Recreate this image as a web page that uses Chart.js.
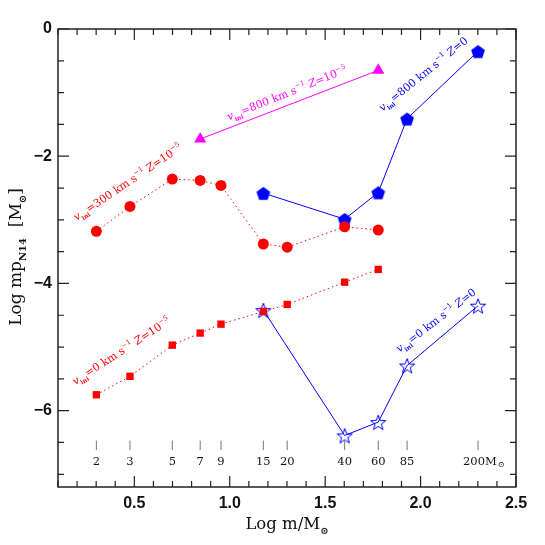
<!DOCTYPE html>
<html>
<head>
<meta charset="utf-8">
<script src="https://cdn.jsdelivr.net/npm/chart.js@4.4.0/dist/chart.umd.min.js"></script>
<style>
  html, body { margin: 0; padding: 0; background: #fff; }
  #wrap { width: 545px; height: 545px; }
</style>
</head>
<body>
<div id="wrap"><canvas id="c" width="545" height="545"></canvas></div>
<script>
// --- data ---
const MASS_LABELS = [2, 3, 5, 7, 9, 15, 20, 40, 60, 85, 200];

const MASS_V300_Z5 = [2, 3, 5, 7, 9, 15, 20, 40, 60];
const LOGMP_V300_Z5 = [-3.18, -2.79, -2.36, -2.38, -2.46, -3.38, -3.43, -3.11, -3.16];

const MASS_V0_Z5 = [2, 3, 5, 7, 9, 15, 20, 40, 60];
const LOGMP_V0_Z5 = [-5.75, -5.46, -4.97, -4.78, -4.64, -4.44, -4.33, -3.98, -3.78];

const MASS_V800_Z5 = [7, 60];
const LOGMP_V800_Z5 = [-1.73, -0.65];

const MASS_V800_Z0 = [15, 40, 60, 85, 200];
const LOGMP_V800_Z0 = [-2.58, -2.99, -2.57, -1.41, -0.35];

const MASS_V0_Z0 = [15, 40, 60, 85, 200];
const LOGMP_V0_Z0 = [-4.42, -6.39, -6.18, -5.29, -4.35];

const X_TICKS = [0.5, 1, 1.5, 2, 2.5];
const Y_TICKS = [0, -2, -4, -6];

// --- colours / fonts ---
const RED = '#ff0000';
const BLUE = '#0000ff';
const MAGENTA = '#ff00ff';
const AXIS = '#222';
const SERIF = '"DejaVu Serif", serif';

const toPoints = (masses, vals) => masses.map((m, i) => ({ x: Math.log10(m), y: vals[i] }));

// custom marker images (pentagon, open star)
function makeMarker(size, draw) {
  const cv = document.createElement('canvas');
  cv.width = size; cv.height = size;
  draw(cv.getContext('2d'), size / 2);
  return cv;
}
const pentagon = makeMarker(16, (g, c) => {
  g.beginPath();
  for (let i = 0; i < 5; i++) {
    const a = -Math.PI / 2 + i * 2 * Math.PI / 5;
    g.lineTo(c + 7.2 * Math.cos(a), c + 1 + 7.2 * Math.sin(a));
  }
  g.closePath();
  g.fillStyle = BLUE; g.fill();
});
const openStar = makeMarker(18, (g, c) => {
  g.beginPath();
  for (let i = 0; i < 10; i++) {
    const a = -Math.PI / 2 + i * Math.PI / 5;
    const r = i % 2 ? 3.3 : 8;
    g.lineTo(c + r * Math.cos(a), c + 1 + r * Math.sin(a));
  }
  g.closePath();
  g.strokeStyle = BLUE; g.lineWidth = 1; g.stroke();
});

// rich text: [text, kind] with kind n / i / sub / sup
function setFont(ctx, k, size) {
  if (k === 'i') ctx.font = `italic ${size}px ${SERIF}`;
  else if (k === 'sub') ctx.font = `bold ${Math.round(size * 0.6)}px ${SERIF}`;
  else if (k === 'sup') ctx.font = `${Math.round(size * 0.65)}px ${SERIF}`;
  else ctx.font = `${size}px ${SERIF}`;
}
function drawRich(ctx, x, y, angle, color, parts, size) {
  ctx.save();
  ctx.translate(x, y);
  ctx.rotate(angle * Math.PI / 180);
  ctx.fillStyle = color;
  ctx.textAlign = 'left';
  ctx.textBaseline = 'alphabetic';
  let cx = 0;
  parts.forEach(([t, k]) => {
    setFont(ctx, k, size);
    const dy = k === 'sub' ? size * 0.3 : k === 'sup' ? -size * 0.45 : 0;
    ctx.fillText(t, cx, dy);
    cx += ctx.measureText(t).width;
  });
  ctx.restore();
}
function richWidth(ctx, parts, size) {
  let w = 0;
  parts.forEach(([t, k]) => { setFont(ctx, k, size); w += ctx.measureText(t).width; });
  return w;
}

const SERIES_LABELS = [
  { x: 0.197, y: -3.02, angle: -34, color: RED,
    parts: [['v', 'i'], ['ini', 'sub'], ['=300 km s', 'n'], ['\u22121', 'sup'], [' ', 'n'], ['Z', 'i'], ['=10', 'n'], ['\u22125', 'sup']] },
  { x: 0.995, y: -1.44, angle: -22, color: MAGENTA,
    parts: [['v', 'i'], ['ini', 'sub'], ['=800 km s', 'n'], ['\u22121', 'sup'], [' ', 'n'], ['Z', 'i'], ['=10', 'n'], ['\u22125', 'sup']] },
  { x: 1.80, y: -1.30, angle: -39, color: BLUE,
    parts: [['v', 'i'], ['ini', 'sub'], ['=800 km s', 'n'], ['\u22121', 'sup'], [' ', 'n'], ['Z', 'i'], ['=0', 'n']] },
  { x: 0.19, y: -5.60, angle: -33, color: RED,
    parts: [['v', 'i'], ['ini', 'sub'], ['=0 km s', 'n'], ['\u22121', 'sup'], [' ', 'n'], ['Z', 'i'], ['=10', 'n'], ['\u22125', 'sup']] },
  { x: 1.89, y: -5.09, angle: -37.5, color: BLUE,
    parts: [['v', 'i'], ['ini', 'sub'], ['=0 km s', 'n'], ['\u22121', 'sup'], [' ', 'n'], ['Z', 'i'], ['=0', 'n']] }
];

// ticks inward on all four sides, mass scale, labels, axis titles
const decorPlugin = {
  id: 'decor',
  afterDraw(chart) {
    const { ctx, chartArea: a, scales: { x, y } } = chart;
    ctx.save();
    ctx.strokeStyle = AXIS;
    ctx.lineWidth = 1.5;
    ctx.strokeRect(a.left, a.top, a.right - a.left, a.bottom - a.top);

    ctx.lineWidth = 1.2;
    ctx.beginPath();
    for (let i = 1; i <= 25; i++) {
      const v = i / 10;
      if (v < x.min - 1e-9) continue;
      const px = x.getPixelForValue(v);
      const len = (i % 5 === 0) ? 11 : 6;
      ctx.moveTo(px, a.bottom); ctx.lineTo(px, a.bottom - len);
      ctx.moveTo(px, a.top); ctx.lineTo(px, a.top + len);
    }
    for (let i = 0; i <= 14; i++) {
      const v = -i / 2;
      const py = y.getPixelForValue(v);
      const len = (i % 4 === 0) ? 11 : 6;
      ctx.moveTo(a.left, py); ctx.lineTo(a.left + len, py);
      ctx.moveTo(a.right, py); ctx.lineTo(a.right - len, py);
    }
    ctx.stroke();

    // mass scale inside the plot
    const tTop = y.getPixelForValue(-6.47), tBot = y.getPixelForValue(-6.62);
    const lab = y.getPixelForValue(-6.80);
    ctx.strokeStyle = '#777';
    ctx.lineWidth = 1;
    ctx.fillStyle = '#111';
    ctx.font = `11.5px ${SERIF}`;
    ctx.textBaseline = 'middle';
    MASS_LABELS.forEach(m => {
      const px = x.getPixelForValue(Math.log10(m));
      ctx.beginPath(); ctx.moveTo(px, tTop); ctx.lineTo(px, tBot); ctx.stroke();
      if (m === 200) {
        ctx.textAlign = 'left';
        const w = ctx.measureText('200').width;
        ctx.fillText('200M', px - w / 2 - 4, lab);
        const wm = ctx.measureText('200M').width;
        ctx.font = `8px ${SERIF}`;
        ctx.fillText('\u2299', px - w / 2 - 4 + wm + 1, lab + 3);
        ctx.font = `11.5px ${SERIF}`;
      } else {
        ctx.textAlign = 'center';
        ctx.fillText(String(m), px, lab);
      }
    });

    SERIES_LABELS.forEach(l => {
      drawRich(ctx, x.getPixelForValue(l.x), y.getPixelForValue(l.y), l.angle, l.color, l.parts, 10.8);
    });

    // axis titles
    const xt = [['Log m/M', 'n'], ['\u2299', 'sub']];
    const xw = richWidth(ctx, xt, 16.5);
    drawRich(ctx, (a.left + a.right) / 2 - xw / 2, 529, 0, '#111', xt, 16.5);

    const yt = [['Log mp', 'n'], ['N14', 'sub'], ['  [M', 'n'], ['\u2299', 'sub'], [']', 'n']];
    const yw = richWidth(ctx, yt, 17);
    drawRich(ctx, 21, 257 + yw / 2, -90, '#111', yt, 17);
    ctx.restore();
  }
};

const lineSet = (label, pts, color, style, radius, dashed) => ({
  label,
  data: pts,
  borderColor: color,
  backgroundColor: color,
  pointBackgroundColor: color,
  pointBorderColor: color,
  pointStyle: style,
  pointRadius: radius,
  pointBorderWidth: 0,
  borderWidth: 1,
  borderDash: dashed ? [1.5, 3] : [],
  showLine: true,
  tension: 0
});

new Chart(document.getElementById('c'), {
  type: 'scatter',
  data: {
    datasets: [
      lineSet('v=300 Z=1e-5', toPoints(MASS_V300_Z5, LOGMP_V300_Z5), RED, 'circle', 5.5, true),
      lineSet('v=0 Z=1e-5', toPoints(MASS_V0_Z5, LOGMP_V0_Z5), RED, 'rect', 5.2, true),
      lineSet('v=800 Z=1e-5', toPoints(MASS_V800_Z5, LOGMP_V800_Z5), MAGENTA, 'triangle', 7, false),
      lineSet('v=800 Z=0', toPoints(MASS_V800_Z0, LOGMP_V800_Z0), BLUE, pentagon, 8, false),
      lineSet('v=0 Z=0', toPoints(MASS_V0_Z0, LOGMP_V0_Z0), BLUE, openStar, 8, false)
    ]
  },
  options: {
    responsive: false,
    animation: false,
    events: [],
    layout: { padding: { top: 29, right: 29, left: 0, bottom: 0 } },
    plugins: { legend: { display: false }, tooltip: { enabled: false } },
    scales: {
      x: {
        type: 'linear', min: 0.1, max: 2.5,
        grid: { display: false, drawTicks: false },
        border: { display: false },
        afterBuildTicks: s => { s.ticks = X_TICKS.map(v => ({ value: v })); },
        afterFit: s => { s.height = 58; },
        ticks: { color: '#111', padding: 7, font: { family: 'Liberation Sans', size: 16, weight: 'bold' } }
      },
      y: {
        type: 'linear', min: -7.2, max: 0,
        grid: { display: false, drawTicks: false },
        border: { display: false },
        afterBuildTicks: s => { s.ticks = Y_TICKS.map(v => ({ value: v })); },
        afterFit: s => { s.width = 58; },
        ticks: { color: '#111', padding: 6, font: { family: 'Liberation Sans', size: 16, weight: 'bold' },
                 callback: v => (v < 0 ? '\u2212' + Math.abs(v) : String(v)) }
      }
    }
  },
  plugins: [decorPlugin]
});
</script>
</body>
</html>
